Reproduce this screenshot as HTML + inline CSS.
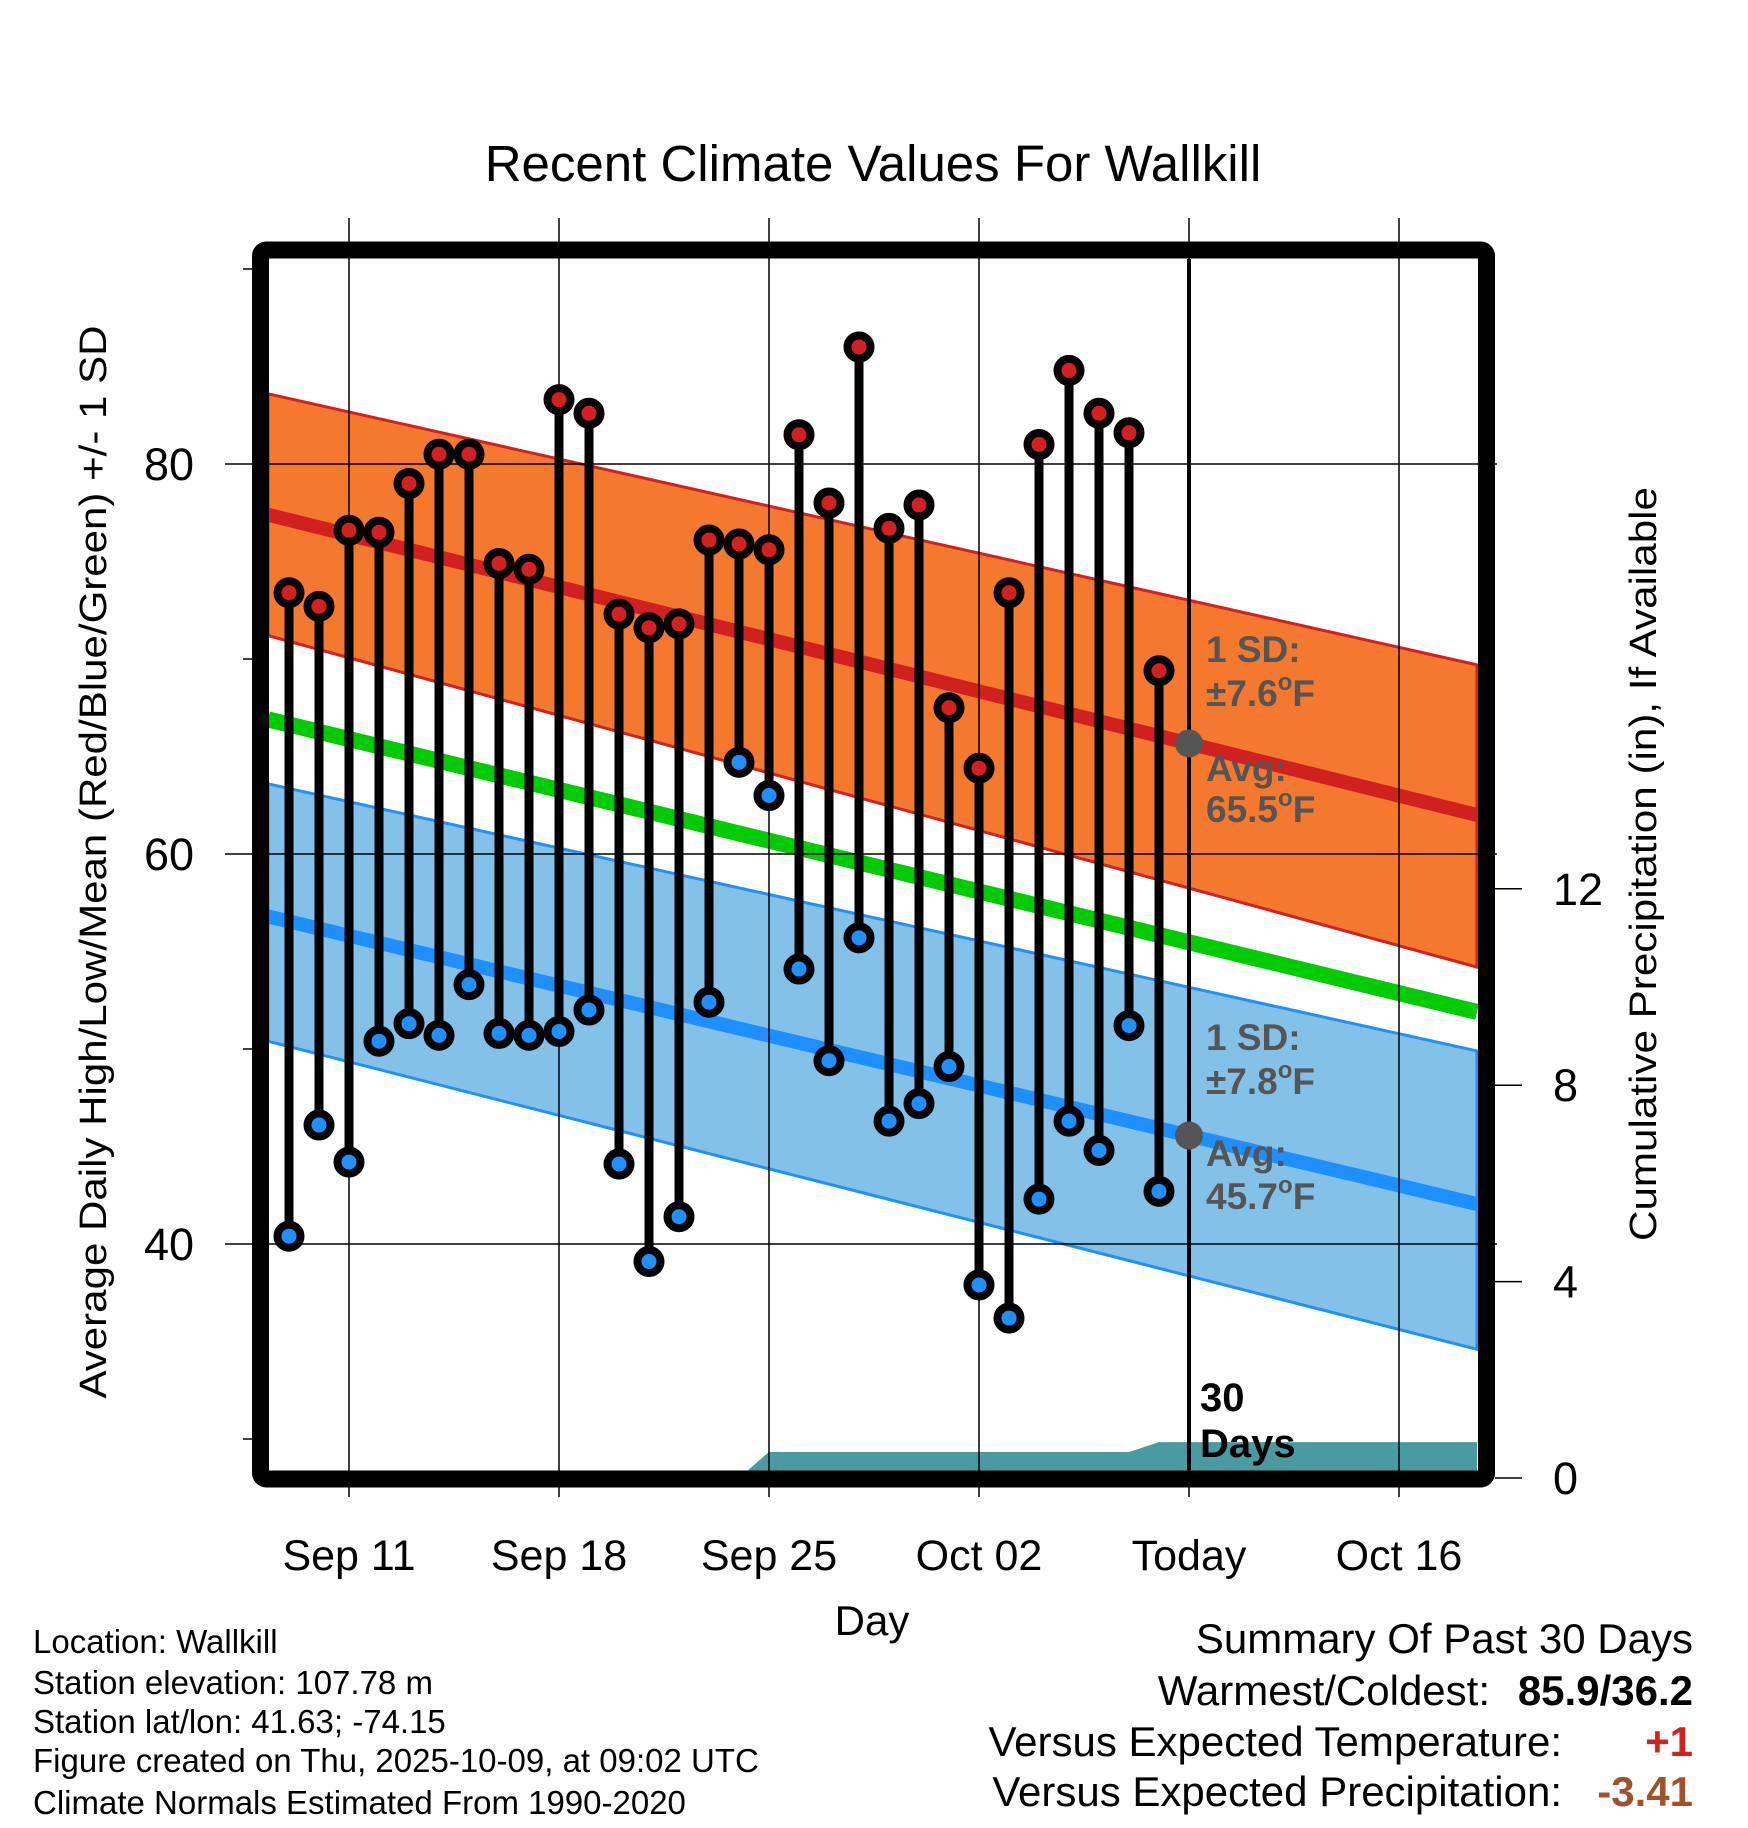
<!DOCTYPE html>
<html><head><meta charset="utf-8"><style>
html,body{margin:0;padding:0;background:#fff;}
svg{display:block;font-family:"Liberation Sans",Arial,sans-serif;}
</style></head><body>
<svg id="chart" width="1748" height="1828" viewBox="0 0 1748 1828" xmlns="http://www.w3.org/2000/svg">
<rect x="0" y="0" width="1748" height="1828" fill="#fff"/>
<text x="873" y="181" font-size="51" text-anchor="middle">Recent Climate Values For Wallkill</text>
<g id="bands"></g>
<g id="grid"></g>
<g id="marks"></g>
<g id="annot"></g>
<rect x="260.5" y="250" width="1226" height="1229" rx="6" fill="none" stroke="#000" stroke-width="17"/>
<g id="axes"></g>
<text x="872" y="1635" font-size="42" text-anchor="middle">Day</text>
<text transform="translate(106,862) rotate(-90)" font-size="38" text-anchor="middle" textLength="1073" lengthAdjust="spacingAndGlyphs">Average Daily High/Low/Mean (Red/Blue/Green) +/- 1 SD</text>
<text transform="translate(1656,864) rotate(-90)" font-size="38" text-anchor="middle" textLength="754" lengthAdjust="spacingAndGlyphs">Cumulative Precipitation (in), If Available</text>
<g font-size="33">
<text x="33" y="1653">Location: Wallkill</text>
<text x="33" y="1694">Station elevation: 107.78 m</text>
<text x="33" y="1733">Station lat/lon: 41.63; -74.15</text>
<text x="33" y="1772">Figure created on Thu, 2025-10-09, at 09:02 UTC</text>
<text x="33" y="1814">Climate Normals Estimated From 1990-2020</text>
</g>
<g font-size="42">
<text x="1693" y="1653" text-anchor="end">Summary Of Past 30 Days</text>
<text x="1490" y="1705" text-anchor="end">Warmest/Coldest:</text>
<text x="1693" y="1705" text-anchor="end" font-weight="bold">85.9/36.2</text>
<text x="1562" y="1756" text-anchor="end">Versus Expected Temperature:</text>
<text x="1693" y="1756" text-anchor="end" font-weight="bold" fill="#d42020">+1</text>
<text x="1562" y="1806" text-anchor="end">Versus Expected Precipitation:</text>
<text x="1693" y="1806" text-anchor="end" font-weight="bold" fill="#a0522d">-3.41</text>
</g>
</svg>
<script>
// data: day index 0 = Sep 8
const days = [1,2,3,4,5,6,7,8,9,10,11,12,13,14,15,16,17,18,19,20,21,22,23,24,25,26,27,28,29,30];
const highs = [73.4,72.7,76.6,76.5,79.0,80.5,80.5,74.9,74.6,83.3,82.6,72.3,71.6,71.8,76.1,75.9,75.6,81.5,78.0,86.0,76.7,77.9,67.5,64.4,73.4,81.0,84.8,82.6,81.6,69.4];
const lows = [40.4,46.1,44.2,50.4,51.3,50.7,53.3,50.8,50.7,50.9,52.0,44.1,39.1,41.4,52.4,64.7,63.0,54.1,49.4,55.7,46.3,47.2,49.1,37.9,36.2,42.3,46.3,44.8,51.2,42.7];
const normDays = [0.3,40.6];
const normHigh = [77.4,62.0];
const normHighUpper = [83.6,69.7];
const normHighLower = [71.2,54.2];
const normLow = [56.8,42.05];
const normLowUpper = [63.6,49.9];
const normLowLower = [50.4,34.6];
const normMean = [66.9,51.9];
const precipDays = [0.3,16,17,29,30,40.6];
const precipVals = [0,0,0.53,0.53,0.73,0.73];
const xTickDays = [3,10,17,24,31,38];
const xTickLabels = ["Sep 11","Sep 18","Sep 25","Oct 02","Today","Oct 16"];
const yTicks = [80,60,40];
const yMinor = [90,70,50,30];
const y2Ticks = [0,4,8,12];
const todayDay = 31;

const NS="http://www.w3.org/2000/svg";
const X = d => 259 + 30*d;
const Y = t => 464 + (80 - t)*19.5;
const Y2 = p => 1478 - p*49.1;
function mk(tag, attrs, parent){const e=document.createElementNS(NS,tag);for(const k in attrs)e.setAttribute(k,attrs[k]);parent.appendChild(e);return e;}
const bands=document.getElementById('bands'),grid=document.getElementById('grid'),marks=document.getElementById('marks'),annot=document.getElementById('annot'),axes=document.getElementById('axes');

function band(up,lo,fill,stroke,name){
  const p=`${X(normDays[0])},${Y(up[0])} ${X(normDays[1])},${Y(up[1])} ${X(normDays[1])},${Y(lo[1])} ${X(normDays[0])},${Y(lo[0])}`;
  const e=mk('polygon',{points:p,fill:fill,stroke:stroke,'stroke-width':3},bands);
  
  
}
function line(vals,color,w,name){
  const e=mk('line',{x1:X(normDays[0]),y1:Y(vals[0]),x2:X(normDays[1]),y2:Y(vals[1]),stroke:color,'stroke-width':w},bands);
  
  
}
band(normHighUpper,normHighLower,'#f4792e','#d42020','high-sd-band');
band(normLowUpper,normLowLower,'#84c1e8','#1e90ff','low-sd-band');
line(normHigh,'#d02020',14,'normal-high-line');
line(normLow,'#1e8fff',14,'normal-low-line');
line(normMean,'#00cc00',16,'normal-mean-line');

let pp=`${X(precipDays[0])},${Y2(0)} `;
for(let i=0;i<precipDays.length;i++)pp+=`${X(precipDays[i])},${Y2(precipVals[i])} `;
pp+=`${X(precipDays[precipDays.length-1])},${Y2(0)}`;
const pr=mk('polygon',{points:pp,fill:'#4a9aa2'},bands);



xTickDays.forEach((d,i)=>{
  const g=mk('line',{x1:X(d),y1:218,x2:X(d),y2:1497,stroke:'#000','stroke-width':1.5},grid);
  
  
  const t=mk('text',{x:X(d),y:1570,'font-size':43,'text-anchor':'middle'},axes);
  t.textContent=xTickLabels[i];
  
  
});
const tl=mk('line',{x1:X(todayDay),y1:259,x2:X(todayDay),y2:1470,stroke:'#000','stroke-width':4},grid);


yTicks.forEach(v=>{
  const g=mk('line',{x1:225,y1:Y(v),x2:1497,y2:Y(v),stroke:'#000','stroke-width':1.5},grid);
  
  
  const t=mk('text',{x:194,y:Y(v)+16,'font-size':45,'text-anchor':'end'},axes);
  t.textContent=v;
  
  
});
yMinor.forEach(v=>{
  const g=mk('line',{x1:243,y1:Y(v),x2:255,y2:Y(v),stroke:'#000','stroke-width':1.5},axes);
  
  
});
y2Ticks.forEach(v=>{
  const g=mk('line',{x1:1495,y1:Y2(v),x2:1522,y2:Y2(v),stroke:'#000','stroke-width':1.5},axes);
  
  
  const t=mk('text',{x:1553,y:Y2(v)+16,'font-size':45},axes);
  t.textContent=v;
  
  
});

days.forEach((d,i)=>{
  const s=mk('line',{x1:X(d),y1:Y(highs[i]),x2:X(d),y2:Y(lows[i]),stroke:'#000','stroke-width':9},marks);
  
  
});
days.forEach((d,i)=>{
  const h=mk('circle',{cx:X(d),cy:Y(highs[i]),r:11.5,fill:'#d42020',stroke:'#000','stroke-width':8},marks);
  
  
  const l=mk('circle',{cx:X(d),cy:Y(lows[i]),r:11.5,fill:'#1e90ff',stroke:'#000','stroke-width':8},marks);
  
  
});

function avgAt(arr,d){return arr[0]+(arr[1]-arr[0])*(d-normDays[0])/(normDays[1]-normDays[0]);}
[[normHigh,'high'],[normLow,'low']].forEach(([a,n])=>{
  const c=mk('circle',{cx:X(todayDay),cy:Y(avgAt(a,todayDay)),r:14,fill:'#555'},annot);
  
  
});
const notes=[["1 SD:","",662],["±7.6","F",706],["Avg:","",781],["65.5","F",822],["1 SD:","",1050],["±7.8","F",1094],["Avg:","",1166],["45.7","F",1209]];
notes.forEach(([txt,unit,y])=>{
  const t=mk('text',{x:1206,y:y,'font-size':37,'font-weight':'bold',fill:'#555'},annot);
  
  
  t.appendChild(document.createTextNode(txt));
  if(unit){
    const o=mk('tspan',{'font-size':24,dy:-16},t); o.textContent='o';
    const f=mk('tspan',{dy:16},t); f.textContent=unit;
  }
});
[["30",1411],["Days",1457]].forEach(([txt,y])=>{
  const t=mk('text',{x:1200,y:y,'font-size':40,'font-weight':'bold',fill:'#000'},annot);
  t.textContent=txt;
  
  
});
</script>
</body></html>
